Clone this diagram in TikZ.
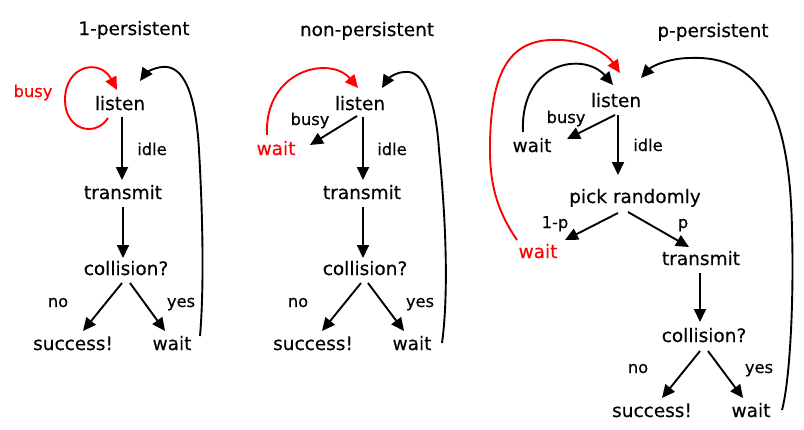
\documentclass[tikz,border=0pt]{standalone}
\usepackage{fontspec}
\setmainfont{DejaVu Sans}[FakeBold=0.4]
\usetikzlibrary{arrows.meta,calc}
\tikzset{
  txt/.style={font=\fontsize{18.5}{22}\selectfont, anchor=base, inner sep=0pt},
  lbl/.style={font=\fontsize{16.3}{19}\selectfont, anchor=base, inner sep=0pt},
  arr/.style={line width=1.9pt, -{Triangle[length=13pt,width=12pt]}},
  redarr/.style={arr, color=red},
}
\begin{document}
\begin{tikzpicture}[x=1pt,y=-1pt]
\useasboundingbox (0,0) rectangle (804,429);
% ---------- panel 1 ----------
\node[txt] (t1) at (134,35) {1-persistent};
\node[lbl,red] (busy1) at (33,97) {busy};
\node[txt] (listen1) at (120,110) {listen};
\node[lbl] (idle1) at (152,155) {idle};
\node[txt] (transmit1) at (123,199) {transmit};
\node[txt] (coll1) at (126,275) {collision?};
\node[lbl] (no1) at (58,307) {no};
\node[lbl] (yes1) at (181,307) {yes};
\node[txt] (succ1) at (73,350) {success!};
\node[txt] (wait1) at (172,350) {wait};
\draw[arr] ($(listen1.base)+(2,7)$) -- ($(transmit1.base)+(-1,-19)$);
\draw[arr] ($(transmit1.base)+(0,8)$) -- ($(coll1.base)+(-3,-17)$);
\draw[arr] ($(coll1.base)+(-4,8)$) -- ($(succ1.base)+(10,-19)$);
\draw[arr] ($(coll1.base)+(4,8)$) -- ($(wait1.base)+(-7,-19)$);
\draw[redarr] ($(listen1.base)+(-12,8)$) .. controls (95,138) and (65,130) .. (65,100)
   .. controls (65,65) and (100,58) .. ($(listen1.base)+(-3,-20)$);
\draw[arr] ($(wait1.base)+(28,-14)$) .. controls (204,290) and (203,220) .. (199,150)
   .. controls (195,80) and (178,65) .. (162,67)
   .. controls (152,68) and (145,74) .. ($(listen1.base)+(20,-29)$);
% ---------- panel 2 ----------
\node[txt] (t2) at (367,36) {non-persistent};
\node[txt] (listen2) at (360,110) {listen};
\node[lbl] (busy2) at (310,125) {busy};
\node[txt,red] (wait2r) at (276,155) {wait};
\node[lbl] (idle2) at (392,155) {idle};
\node[txt] (transmit2) at (362,199) {transmit};
\node[txt] (coll2) at (365,275) {collision?};
\node[lbl] (no2) at (298,307) {no};
\node[lbl] (yes2) at (420,307) {yes};
\node[txt] (succ2) at (313,350) {success!};
\node[txt] (wait2) at (412,350) {wait};
\draw[arr] ($(listen2.base)+(3,7)$) -- ($(transmit2.base)+(1,-19)$);
\draw[arr] ($(transmit2.base)+(1,8)$) -- ($(coll2.base)+(-2,-17)$);
\draw[arr] ($(coll2.base)+(-4,8)$) -- ($(succ2.base)+(9,-19)$);
\draw[arr] ($(coll2.base)+(3,8)$) -- ($(wait2.base)+(-8,-19)$);
\draw[arr] ($(listen2.base)+(-3,6)$) -- ($(wait2r.base)+(34,-10)$);
\draw[redarr] ($(wait2r.base)+(-9,-20)$) .. controls (264,70) and (330,55) .. ($(listen2.base)+(-2,-22)$);
\draw[arr] ($(wait2.base)+(30,-7)$) .. controls (448,300) and (447,230) .. (439,150)
   .. controls (435,90) and (420,70) .. (405,72)
   .. controls (395,72) and (387,80) .. ($(listen2.base)+(22,-22)$);
% ---------- panel 3 ----------
\node[txt] (t3) at (713,37) {p-persistent};
\node[txt] (listen3) at (616,107) {listen};
\node[lbl] (busy3) at (566,123) {busy};
\node[txt] (wait3) at (532,152) {wait};
\node[lbl] (idle3) at (648,151) {idle};
\node[txt] (pick) at (635,203) {pick randomly};
\node[lbl] (onep) at (555,228) {1-p};
\node[lbl] (pp) at (683,228) {p};
\node[txt,red] (wait3r) at (538,258) {wait};
\node[txt] (transmit3) at (701,265) {transmit};
\node[txt] (coll3) at (704,342) {collision?};
\node[lbl] (no3) at (638,373) {no};
\node[lbl] (yes3) at (759,373) {yes};
\node[txt] (succ3) at (652,417) {success!};
\node[txt] (wait3b) at (751,417) {wait};
\draw[arr] ($(listen3.base)+(-1,8)$) -- ($(wait3.base)+(35,-13)$);
\draw[arr] ($(listen3.base)+(2,8)$) -- ($(pick.base)+(-17,-28)$);
\draw[arr] ($(wait3.base)+(-9,-20)$) .. controls (520,60) and (585,52) .. ($(listen3.base)+(-3,-22)$);
\draw[redarr] ($(wait3r.base)+(-21,-18)$) .. controls (500,215) and (490,190) .. (490,150)
   .. controls (490,80) and (505,42) .. (550,40)
   .. controls (585,38) and (608,55) .. ($(listen3.base)+(4,-34)$);
\draw[arr] ($(pick.base)+(-17,10)$) -- ($(wait3r.base)+(27,-18)$);
\draw[arr] ($(pick.base)+(-7,9)$) -- ($(transmit3.base)+(-12,-18)$);
\draw[arr] ($(transmit3.base)+(-1,8)$) -- ($(coll3.base)+(-4,-20)$);
\draw[arr] ($(coll3.base)+(-4,9)$) -- ($(succ3.base)+(10,-19)$);
\draw[arr] ($(coll3.base)+(4,9)$) -- ($(wait3b.base)+(-8,-19)$);
\draw[arr] ($(wait3b.base)+(31,-7)$) .. controls (790,380) and (794,300) .. (792,230)
   .. controls (790,110) and (760,55) .. (690,58)
   .. controls (670,58) and (652,66) .. ($(listen3.base)+(25,-29)$);
\end{tikzpicture}
\end{document}
